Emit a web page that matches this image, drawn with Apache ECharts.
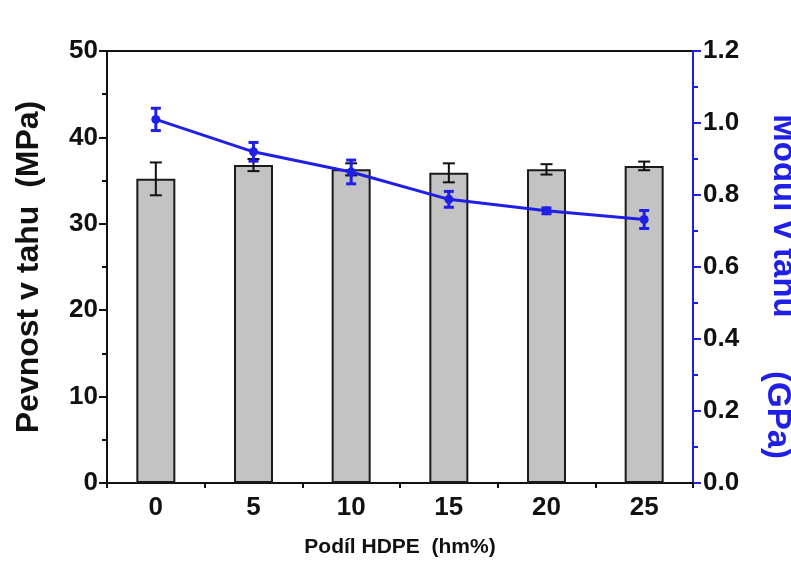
<!DOCTYPE html>
<html>
<head>
<meta charset="utf-8">
<script src="https://cdn.jsdelivr.net/npm/echarts@6/dist/echarts.min.js"></script>
<style>html,body{margin:0;padding:0;background:#fff;}#c{width:791px;height:573px;}</style>
</head>
<body>
<div id="c"></div>
<script>
const categories = ['0', '5', '10', '15', '20', '25'];
const strength = [35.2, 36.8, 36.3, 35.9, 36.3, 36.7];
const strengthErr = [1.9, 0.7, 0.7, 1.1, 0.6, 0.5];
const modulus = [1.01, 0.92, 0.864, 0.788, 0.756, 0.732];
const modulusErr = [0.031, 0.026, 0.033, 0.022, 0.008, 0.025];
const leftTicks = [0, 10, 20, 30, 40, 50];
const rightTicks = [0.0, 0.2, 0.4, 0.6, 0.8, 1.0, 1.2];

const FONT = "'Liberation Sans', Arial, sans-serif";
const BLUE = '#1f1fe6';

function errRender(half, color, width) {
  return function (params, api) {
    const i = api.value(0);
    const v = api.value(1);
    const e = api.value(2);
    const top = api.coord([i, v + e]);
    const bot = api.coord([i, v - e]);
    const st = { stroke: color, lineWidth: width };
    return {
      type: 'group',
      children: [
        { type: 'line', shape: { x1: top[0], y1: top[1], x2: bot[0], y2: bot[1] }, style: st },
        { type: 'line', shape: { x1: top[0] - half, y1: top[1], x2: top[0] + half, y2: top[1] }, style: st },
        { type: 'line', shape: { x1: bot[0] - half, y1: bot[1], x2: bot[0] + half, y2: bot[1] }, style: st }
      ]
    };
  };
}

const chart = echarts.init(document.getElementById('c'), null, { renderer: 'canvas' });
chart.setOption({
  animation: false,
  backgroundColor: '#ffffff',
  textStyle: { fontFamily: FONT },
  grid: { left: 107, right: 98, top: 51, bottom: 90, show: true, borderColor: '#111', borderWidth: 2, backgroundColor: 'transparent' },
  xAxis: [
    {
      type: 'category', data: categories, position: 'bottom',
      name: 'Podíl HDPE  (hm%)', nameLocation: 'middle', nameGap: 54,
      nameTextStyle: { fontSize: 21, fontWeight: 'bold', color: '#111', fontFamily: FONT },
      axisLine: { lineStyle: { color: '#111', width: 2 } },
      axisTick: { alignWithLabel: true, length: 8, lineStyle: { color: '#111', width: 2 } },
      axisLabel: { fontSize: 26, fontWeight: 'bold', color: '#111', margin: 12, fontFamily: FONT },
      splitLine: { show: false }
    },
    {
      type: 'category', data: categories, position: 'bottom',
      axisLine: { show: false },
      axisTick: { show: true, alignWithLabel: false, length: 5, lineStyle: { color: '#111', width: 2 } },
      axisLabel: { show: false },
      splitLine: { show: false }
    }
  ],
  yAxis: [
    {
      type: 'value', min: 0, max: 50, interval: 10, position: 'left',
      name: 'Pevnost v tahu  (MPa)', nameLocation: 'middle', nameGap: 62,
      nameTextStyle: { fontSize: 32, fontWeight: 'bold', color: '#111', fontFamily: FONT },
      axisLine: { show: true, lineStyle: { color: '#111', width: 2 } },
      axisTick: { show: true, length: 8, lineStyle: { color: '#111', width: 2 } },
      minorTick: { show: true, splitNumber: 2, length: 5, lineStyle: { color: '#111', width: 2 } },
      axisLabel: { fontSize: 26, fontWeight: 'bold', color: '#111', margin: 9, fontFamily: FONT,
        formatter: v => leftTicks.includes(v) ? String(v) : '' },
      splitLine: { show: false }
    },
    {
      type: 'value', min: 0, max: 1.2, interval: 0.2, position: 'right',
      axisLine: { show: true, lineStyle: { color: BLUE, width: 2 } },
      axisTick: { show: true, length: 8, lineStyle: { color: BLUE, width: 2 } },
      minorTick: { show: true, splitNumber: 2, length: 5, lineStyle: { color: BLUE, width: 2 } },
      axisLabel: { fontSize: 26, fontWeight: 'bold', color: '#111', margin: 10, fontFamily: FONT,
        formatter: v => { const t = rightTicks.find(r => Math.abs(r - v) < 1e-6); return t === undefined ? '' : t.toFixed(1); } },
      splitLine: { show: false }
    }
  ],
  graphic: [
    { type: 'text', x: 767, y: 216, rotation: -Math.PI / 2,
      style: { text: 'Modul v tahu', fill: BLUE, font: "bold 33px " + FONT, textAlign: 'center', textVerticalAlign: 'bottom' } },
    { type: 'text', x: 761, y: 415, rotation: -Math.PI / 2,
      style: { text: '(GPa)', fill: BLUE, font: "bold 33px " + FONT, textAlign: 'center', textVerticalAlign: 'bottom' } }
  ],
  series: [
    {
      type: 'bar', xAxisIndex: 0, yAxisIndex: 0, data: strength, barWidth: 39,
      itemStyle: { color: '#c3c3c3', borderColor: '#1a1a1a', borderWidth: 2 }, z: 2
    },
    {
      type: 'custom', xAxisIndex: 0, yAxisIndex: 0,
      data: strength.map((v, i) => [i, v, strengthErr[i]]),
      renderItem: errRender(6, '#111', 2), z: 3
    },
    {
      type: 'line', xAxisIndex: 0, yAxisIndex: 1, data: modulus,
      lineStyle: { color: BLUE, width: 3 }, itemStyle: { color: BLUE },
      symbol: 'circle', symbolSize: 9, z: 4
    },
    {
      type: 'custom', xAxisIndex: 0, yAxisIndex: 1,
      data: modulus.map((v, i) => [i, v, modulusErr[i]]),
      renderItem: errRender(5, BLUE, 3), z: 5
    }
  ]
});
</script>
</body>
</html>
